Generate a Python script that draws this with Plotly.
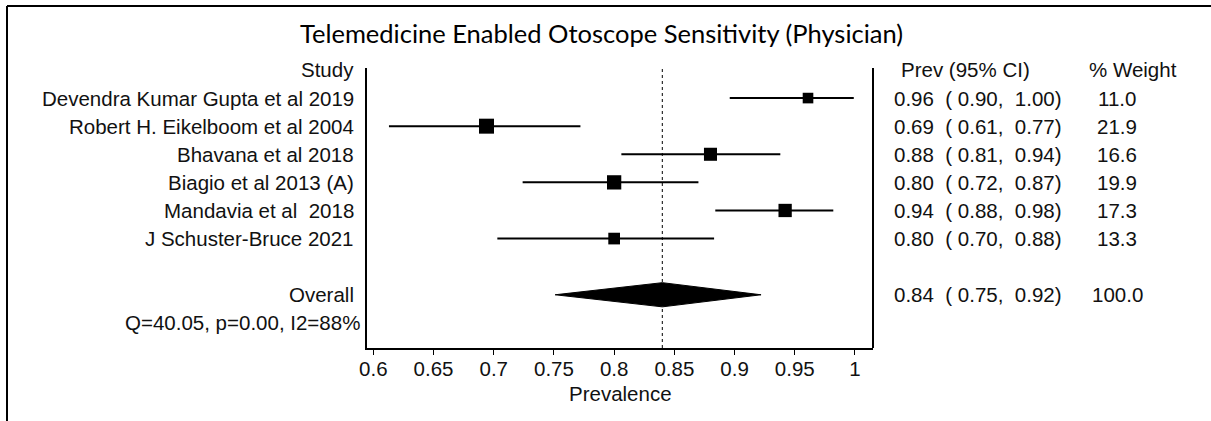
import plotly.graph_objects as go
import math

studies = ["Devendra Kumar Gupta et al 2019", "Robert H. Eikelboom et al 2004",
           "Bhavana et al 2018", "Biagio et al 2013 (A)", "Mandavia et al  2018",
           "J Schuster-Bruce 2021"]
prev = [0.961, 0.694, 0.880, 0.800, 0.942, 0.800]
ci_lo = [0.896, 0.613, 0.806, 0.724, 0.884, 0.703]
ci_hi = [0.999, 0.772, 0.938, 0.870, 0.982, 0.883]
weight = [11.0, 21.9, 16.6, 19.9, 17.3, 13.3]
overall = 0.84
overall_lo = 0.751
overall_hi = 0.922
overall_weight = 100.0
het_text = "Q=40.05, p=0.00, I2=88%"
title = "Telemedicine Enabled Otoscope Sensitivity (Physician)"
tick_vals = [0.6, 0.65, 0.7, 0.75, 0.8, 0.85, 0.9, 0.95, 1.0]
tick_text = ["0.6", "0.65", "0.7", "0.75", "0.8", "0.85", "0.9", "0.95", "1"]

W, H = 1211, 421
L, R, T, B = 367, 873, 68, 348

def px(xp):
    return (xp - L) / (R - L)

def py(yp):
    return (B - yp) / (B - T)

rows = list(range(1, len(studies) + 1))
overall_row = len(studies) + 2
het_row = overall_row + 1
FONT = "Liberation Sans, Arial, sans-serif"
FS = 20.5
TXT = "#111111"

fig = go.Figure()

# CI lines
for r, lo, hi in zip(rows, ci_lo, ci_hi):
    fig.add_trace(go.Scatter(x=[lo, hi], y=[r, r], mode="lines",
                             line=dict(color="black", width=2), showlegend=False,
                             hoverinfo="skip"))

# squares
fig.add_trace(go.Scatter(x=prev, y=rows, mode="markers",
                         marker=dict(symbol="square", color="black", opacity=1,
                                     size=[3.2 * math.sqrt(w) for w in weight],
                                     line=dict(width=0)),
                         showlegend=False))

# diamond
h = 0.43
fig.add_trace(go.Scatter(x=[overall_lo, overall, overall_hi, overall, overall_lo],
                         y=[overall_row, overall_row - h, overall_row, overall_row + h, overall_row],
                         mode="lines", fill="toself", fillcolor="black",
                         line=dict(color="black", width=1), showlegend=False))

shapes = [
    dict(type="line", xref="x", yref="paper", x0=overall, x1=overall, y0=0, y1=1,
         line=dict(color="black", width=1, dash="dot")),
    dict(type="line", xref="paper", yref="paper", x0=1, x1=1, y0=0, y1=1,
         line=dict(color="black", width=2)),
    dict(type="line", xref="paper", yref="paper", x0=px(7), x1=px(W + 5), y0=py(6), y1=py(6),
         line=dict(color="black", width=2)),
    dict(type="line", xref="paper", yref="paper", x0=px(7), x1=px(7), y0=py(6), y1=py(H + 5),
         line=dict(color="black", width=2)),
]

ann = []
def add_text(text, x, y, xanchor="left", yref="y", size=FS, family=FONT):
    ann.append(dict(text=text, x=x, y=y, xref="paper", yref=yref, xanchor=xanchor,
                    yanchor="middle", showarrow=False,
                    font=dict(family=family, size=size, color=TXT)))

NB = "\u00a0"
add_text("Study", px(356), 0, "right")
add_text("Prev (95% CI)", px(899), 0, "left")
add_text("% Weight", px(1087), 0, "left")
for r, s, p, lo, hi, w in zip(rows, studies, prev, ci_lo, ci_hi, weight):
    add_text(s.replace(" ", NB), px(356), r, "right")
    add_text(f"{p:.2f}{NB*2}({NB}{lo:.2f},{NB*2}{hi:.2f})", px(892), r, "left")
    add_text(f"{w:.1f}", px(1117), r, "center")
add_text("Overall", px(356), overall_row, "right")
add_text(f"{overall:.2f}{NB*2}({NB}{overall_lo:.2f},{NB*2}{overall_hi:.2f})", px(892), overall_row, "left")
add_text(f"{overall_weight:.1f}", px(1117), overall_row, "center")
add_text(het_text, px(362), het_row, "right")
ann.append(dict(text=title, x=px(601), y=py(33), xref="paper", yref="paper",
                xanchor="center", yanchor="middle", showarrow=False,
                font=dict(family="Lato, Open Sans, sans-serif", size=25.5, color="black")))
ann.append(dict(text="Prevalence", x=px(620), y=py(393), xref="paper", yref="paper",
                xanchor="center", yanchor="middle", showarrow=False,
                font=dict(family=FONT, size=FS, color=TXT)))

y_top = -0.07
y_bot = y_top + (B - T) / 28.1

fig.update_layout(
    width=W, height=H,
    margin=dict(l=L, r=W - R, t=T, b=H - B, pad=0),
    paper_bgcolor="white", plot_bgcolor="white",
    shapes=shapes, annotations=ann,
    xaxis=dict(range=[0.6 - 6.3 / 1202.5, 1.0 + 18 / 1202.5], tickvals=tick_vals,
               ticktext=tick_text, ticks="outside", ticklen=5, tickwidth=1,
               tickcolor="black", showline=True, linecolor="black", linewidth=2,
               showgrid=False, zeroline=False, ticklabelstandoff=-4,
               tickfont=dict(family=FONT, size=FS, color=TXT)),
    yaxis=dict(range=[y_bot, y_top], showticklabels=False, ticks="",
               showline=True, linecolor="black", linewidth=2,
               showgrid=False, zeroline=False),
    showlegend=False,
)

fig.write_html("out.html")
